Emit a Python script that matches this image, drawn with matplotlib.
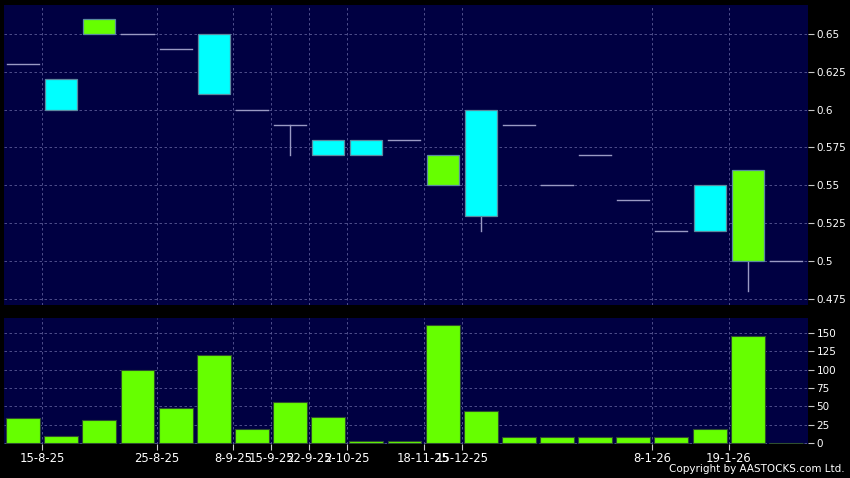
import matplotlib
matplotlib.use("Agg")
import matplotlib.pyplot as plt
from matplotlib.patches import Rectangle

# ---- data ----
opens  = [0.63, 0.60, 0.66, 0.65, 0.64, 0.61, 0.60, 0.59, 0.57, 0.57, 0.58,
          0.57, 0.53, 0.59, 0.55, 0.57, 0.54, 0.52, 0.52, 0.56, 0.50]
closes = [0.63, 0.62, 0.65, 0.65, 0.64, 0.65, 0.60, 0.59, 0.58, 0.58, 0.58,
          0.55, 0.60, 0.59, 0.55, 0.57, 0.54, 0.52, 0.55, 0.50, 0.50]
highs  = [0.63, 0.62, 0.66, 0.65, 0.64, 0.65, 0.60, 0.59, 0.58, 0.58, 0.58,
          0.57, 0.60, 0.59, 0.55, 0.57, 0.54, 0.52, 0.55, 0.56, 0.50]
lows   = [0.63, 0.60, 0.65, 0.65, 0.64, 0.61, 0.60, 0.57, 0.57, 0.57, 0.58,
          0.55, 0.52, 0.59, 0.55, 0.57, 0.54, 0.52, 0.52, 0.48, 0.50]
volumes = [34, 10, 32, 100, 48, 120, 20, 56, 36, 3, 3,
           160, 44, 8, 8, 8, 8, 8, 20, 146, 0]
tick_index = [0, 3, 5, 6, 7, 8, 10, 11, 16, 18]
tick_labels = ["15-8-25", "25-8-25", "8-9-25", "15-9-25", "22-9-25", "2-10-25",
               "18-11-25", "15-12-25", "8-1-26", "19-1-26"]
price_ticks = [0.475, 0.5, 0.525, 0.55, 0.575, 0.6, 0.625, 0.65]
price_tick_labels = ["0.475", "0.5", "0.525", "0.55", "0.575", "0.6", "0.625", "0.65"]
vol_ticks = [0, 25, 50, 75, 100, 125, 150]

# ---- style ----
BG = "#000000"
FACE = "#000042"
UP = "#00FFFF"
DOWN = "#66FF00"
GRID = "#5a5a96"
DOJI = "#9a9ac4"
EDGE = "#5a8aa0"

fig = plt.figure(figsize=(8.5, 4.78), dpi=100, facecolor=BG)
ax = fig.add_axes([4/850, 1-305/478, 804/850, 300/478])
axv = fig.add_axes([4/850, 1-444/478, 804/850, 126/478])

xlim = (-0.5, 20.58)
xt = [i + 0.5 for i in tick_index]

for a in (ax, axv):
    a.set_facecolor(FACE)
    a.set_xlim(*xlim)
    for s in a.spines.values():
        s.set_visible(False)
    a.yaxis.tick_right()
    a.tick_params(axis="y", colors="#c8c8c8", labelcolor="white", length=4,
                  width=0.8, pad=2, labelsize=7.5, direction="out")
    a.set_xticks(xt)
    a.grid(True, color=GRID, linestyle=(0, (3, 3)), linewidth=0.6)
    a.set_axisbelow(True)

# candles
bw = 0.84
for i, (o, c, h, l) in enumerate(zip(opens, closes, highs, lows)):
    if o == c:
        ax.plot([i - bw/2, i + bw/2], [o, o], color=DOJI, lw=1.0, zorder=3)
        if l < o:
            ax.plot([i, i], [l, o], color=DOJI, lw=1.0, zorder=3)
        if h > o:
            ax.plot([i, i], [o, h], color=DOJI, lw=1.0, zorder=3)
        continue
    lo, hi = min(o, c), max(o, c)
    color = UP if c > o else DOWN
    if l < lo:
        ax.plot([i, i], [l, lo], color=DOJI, lw=1.0, zorder=2)
    if h > hi:
        ax.plot([i, i], [hi, h], color=DOJI, lw=1.0, zorder=2)
    ax.add_patch(Rectangle((i - bw/2, lo), bw, hi - lo, facecolor=color,
                           edgecolor=EDGE, lw=0.9, zorder=3))

ax.set_ylim(0.471, 0.669)
ax.set_yticks(price_ticks)
ax.set_yticklabels(price_tick_labels)
ax.tick_params(axis="x", length=0, labelbottom=False)

# volume
axv.bar(range(len(volumes)), volumes, width=0.89, color=DOWN,
        edgecolor="#2f4f2f", linewidth=0.8, zorder=3)
axv.set_ylim(-1, 170)
axv.set_yticks(vol_ticks)
axv.set_xticklabels(tick_labels)
axv.tick_params(axis="x", colors="#c8c8c8", labelcolor="white", length=4,
                width=0.8, pad=2, labelsize=8.4, direction="out")

fig.text(0.994, 0.008, "Copyright by AASTOCKS.com Ltd.", color="white",
         fontsize=7.5, ha="right", va="bottom")

fig.savefig("out.png", dpi=100, facecolor=BG)
